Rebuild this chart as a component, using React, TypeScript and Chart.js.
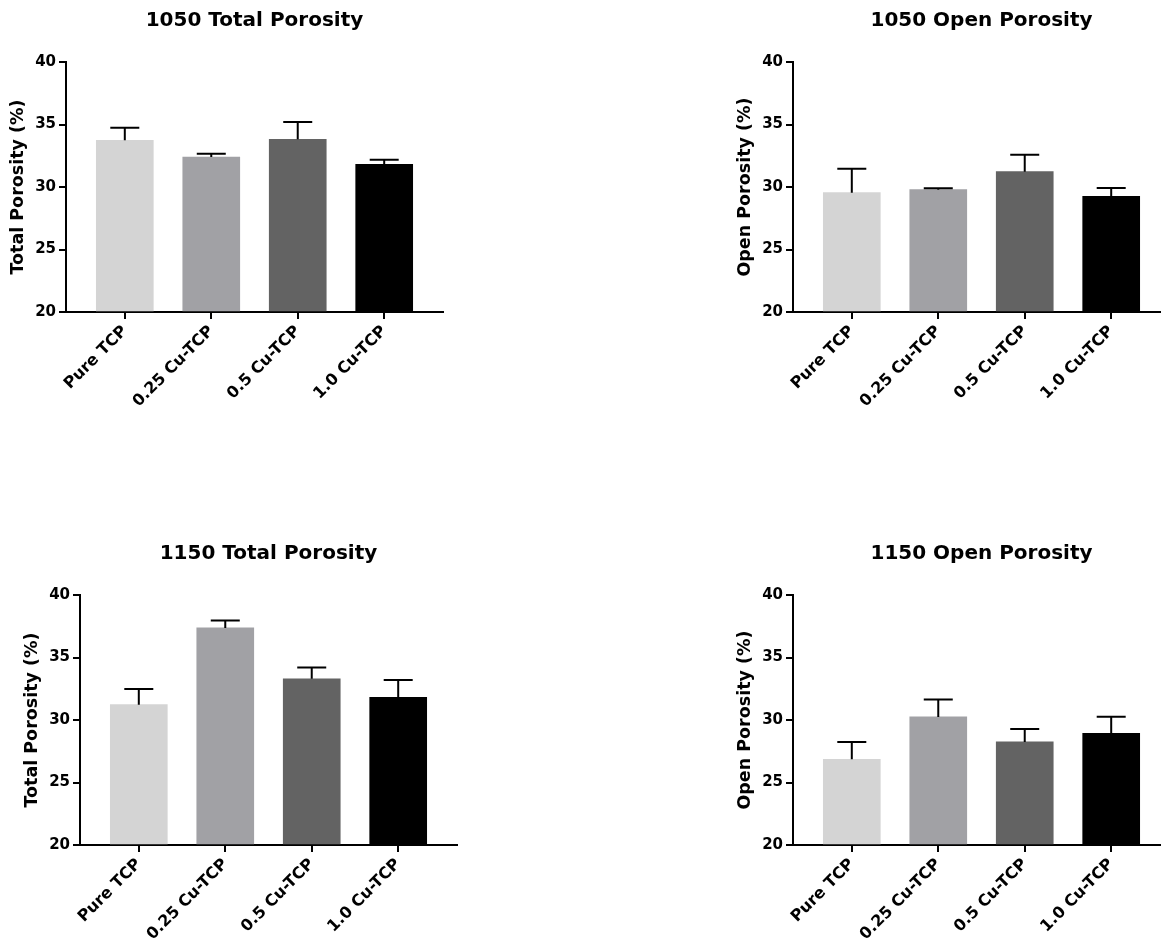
import React, { useEffect, useRef } from "react";
import { Chart, registerables } from "chart.js";

Chart.register(...registerables);

// ---------- data ----------
const categories = ["Pure TCP", "0.25 Cu-TCP", "0.5 Cu-TCP", "1.0 Cu-TCP"];
const barColors = ["#d4d4d4", "#a1a1a5", "#636363", "#000000"];
const yTickValues = [20, 25, 30, 35, 40];

const total1050 = [33.74, 32.4, 33.82, 31.82];
const total1050Err = [1.0, 0.27, 1.38, 0.37];
const open1050 = [29.55, 29.79, 31.23, 29.26];
const open1050Err = [1.92, 0.11, 1.36, 0.66];
const total1150 = [31.23, 37.37, 33.3, 31.81];
const total1150Err = [1.25, 0.59, 0.9, 1.39];
const open1150 = [26.86, 30.25, 28.25, 28.94];
const open1150Err = [1.39, 1.4, 1.04, 1.33];

// ---------- layout ----------
const FONT = "'DejaVu Sans', 'Liberation Sans', Arial, sans-serif";
const Y_W = 66;
const PLOT_W = 377;
const PLOT_H = 250;
const TOP_H = 62;
const X_H = 151;
const RIGHT_PAD = 12;
const CANVAS_W = Y_W + PLOT_W + RIGHT_PAD;
const CANVAS_H = TOP_H + PLOT_H + X_H;

const errorBarPlugin = {
  id: "errorBars",
  afterDatasetsDraw(chart: any, _args: any, opts: any) {
    const errs: number[] = opts.errors || [];
    const ctx = chart.ctx;
    const meta = chart.getDatasetMeta(0);
    const yScale = chart.scales.y;
    const data = chart.data.datasets[0].data as any[];
    ctx.save();
    ctx.strokeStyle = "#000";
    ctx.lineWidth = 2;
    ctx.lineCap = "butt";
    meta.data.forEach((bar: any, i: number) => {
      const v = data[i].y;
      const top = yScale.getPixelForValue(v + errs[i]);
      const cap = 14.5;
      ctx.beginPath();
      ctx.moveTo(bar.x, bar.y);
      ctx.lineTo(bar.x, top);
      ctx.moveTo(bar.x - cap, top);
      ctx.lineTo(bar.x + cap, top);
      ctx.stroke();
    });
    ctx.restore();
  },
};

type PanelProps = {
  title: string;
  yLabel: string;
  values: number[];
  errors: number[];
  left: number;
  top: number;
};

function Panel({ title, yLabel, values, errors, left, top }: PanelProps) {
  const ref = useRef<HTMLCanvasElement>(null);
  useEffect(() => {
    const chart = new Chart(ref.current as HTMLCanvasElement, {
      type: "bar",
      data: {
        datasets: [
          {
            data: values.map((v, i) => ({ x: i, y: v })),
            backgroundColor: barColors,
            borderWidth: 0,
            barThickness: 57,
            base: 20,
          } as any,
        ],
      },
      options: {
        responsive: false,
        maintainAspectRatio: false,
        animation: false,
        devicePixelRatio: 1,
        layout: { padding: { left: 0, right: RIGHT_PAD, top: 0, bottom: 0 } },
        plugins: {
          legend: { display: false },
          tooltip: { enabled: false },
          title: {
            display: true,
            fullSize: false,
            text: title,
            color: "#000",
            font: { family: FONT, size: 20, weight: "bold" },
            padding: { top: 9, bottom: 29 },
          },
          errorBars: { errors },
        } as any,
        scales: {
          x: {
            type: "linear",
            min: -0.68,
            max: 3.68,
            offset: false,
            z: 1,
            afterBuildTicks: (s: any) => {
              s.ticks = categories.map((_, i) => ({ value: i }));
            },
            afterFit: (s: any) => {
              s.height = X_H;
            },
            ticks: {
              autoSkip: false,
              minRotation: 45,
              maxRotation: 45,
              color: "#000",
              padding: 3,
              font: { family: FONT, size: 16, weight: "bold" },
              callback: (_v: any, i: number) => categories[i],
            },
            grid: {
              offset: false,
              drawOnChartArea: false,
              drawTicks: true,
              tickLength: 7,
              color: "#000",
              lineWidth: 2,
            },
            border: { display: true, color: "#000", width: 2 },
          } as any,
          y: {
            min: 20,
            max: 40,
            z: 1,
            afterBuildTicks: (s: any) => {
              s.ticks = yTickValues.map((v) => ({ value: v }));
            },
            afterFit: (s: any) => {
              s.width = Y_W;
            },
            ticks: {
              color: "#000",
              padding: 3,
              font: { family: FONT, size: 15, weight: "bold" },
            },
            grid: {
              drawOnChartArea: false,
              drawTicks: true,
              tickLength: 7,
              color: "#000",
              lineWidth: 2,
            },
            border: { display: true, color: "#000", width: 2 },
            title: {
              display: true,
              text: yLabel,
              color: "#000",
              font: { family: FONT, size: 17.5, weight: "bold" },
              padding: { top: 7.5, bottom: 0 },
            },
          } as any,
        },
      },
      plugins: [errorBarPlugin as any],
    });
    return () => chart.destroy();
  }, []);
  return (
    <div
      style={{
        position: "absolute",
        left,
        top,
        width: CANVAS_W,
        height: CANVAS_H,
      }}
    >
      <canvas
        ref={ref}
        width={CANVAS_W}
        height={CANVAS_H}
        style={{ width: CANVAS_W, height: CANVAS_H, display: "block" }}
      />
    </div>
  );
}

export default function App() {
  return (
    <div
      style={{
        position: "absolute",
        left: 0,
        top: 0,
        width: 1161,
        height: 949,
        overflow: "hidden",
        background: "#fff",
      }}
    >
      <Panel
        title="1050 Total Porosity"
        yLabel="Total Porosity (%)"
        values={total1050}
        errors={total1050Err}
        left={0}
        top={0}
      />
      <Panel
        title="1050 Open Porosity"
        yLabel="Open Porosity (%)"
        values={open1050}
        errors={open1050Err}
        left={727}
        top={0}
      />
      <Panel
        title="1150 Total Porosity"
        yLabel="Total Porosity (%)"
        values={total1150}
        errors={total1150Err}
        left={14}
        top={533}
      />
      <Panel
        title="1150 Open Porosity"
        yLabel="Open Porosity (%)"
        values={open1150}
        errors={open1150Err}
        left={727}
        top={533}
      />
    </div>
  );
}
